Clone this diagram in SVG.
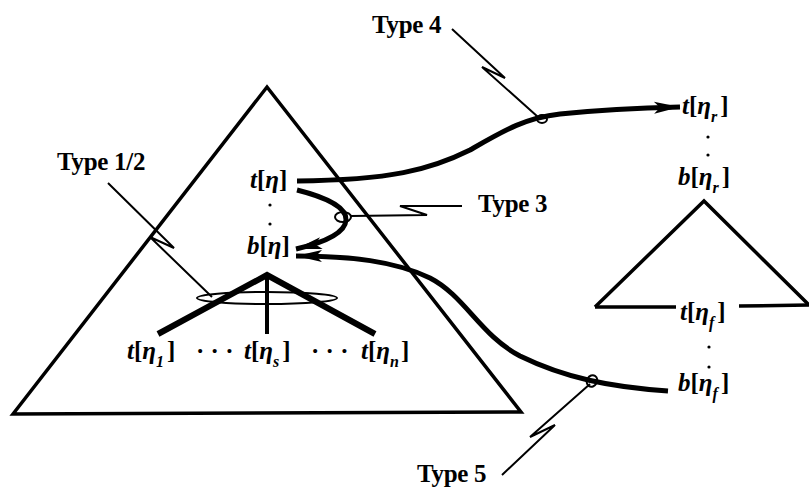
<svg xmlns="http://www.w3.org/2000/svg" width="809" height="497" viewBox="0 0 809 497">
<style>
.tri{fill:none;stroke:#000;stroke-width:3.5;stroke-linejoin:miter}
.thick{fill:none;stroke:#000;stroke-width:5;stroke-linecap:butt}
.lead{fill:none;stroke:#000;stroke-width:2}
.ring{fill:none;stroke:#000;stroke-width:2}
.lbl{font-family:"Liberation Serif",serif;font-weight:bold;font-size:25px;letter-spacing:-0.3px}
.m{font-family:"Liberation Serif",serif;font-size:25px;font-weight:bold}
.i{font-style:italic}
.sub{font-family:"Liberation Serif",serif;font-size:16px;font-style:italic;font-weight:bold}
.dot{fill:#000}
</style>
<defs>
<marker id="ah" markerUnits="userSpaceOnUse" markerWidth="32" markerHeight="16" viewBox="-28 -8 30 16" refX="0" refY="0" orient="auto">
<path d="M0,0 L-26,-6 L-20,0 L-26,6 Z" fill="#000"/>
</marker>
</defs>

<g id="big-tree">
<path class="tri" d="M13,414 L267,87 L521,412 Z"/>
</g>

<g id="subtree">
<path d="M158,334 L267,275 L375,334" fill="none" stroke="#000" stroke-width="6"/>
<path d="M267,275 L267,334" fill="none" stroke="#000" stroke-width="4"/>
<ellipse class="ring" cx="267" cy="298" rx="70" ry="6"/>
</g>

<g id="node-t-eta">
<text class="m" x="250" y="188"><tspan class="i">t</tspan>[<tspan class="i">η</tspan>]</text>
<circle class="dot" cx="270" cy="205" r="1.6"/>
<circle class="dot" cx="270" cy="224" r="1.6"/>
</g>
<g id="node-b-eta">
<text class="m" x="247" y="254"><tspan class="i">b</tspan>[<tspan class="i">η</tspan>]</text>
</g>

<g id="children">
<text class="m" x="127" y="359"><tspan class="i">t</tspan>[<tspan class="i">η</tspan><tspan class="sub" dy="8">1</tspan><tspan dy="-8" dx="3">]</tspan></text>
<text class="m" x="196" y="359">· · ·</text>
<text class="m" x="244" y="359"><tspan class="i">t</tspan>[<tspan class="i">η</tspan><tspan class="sub" dy="8">s</tspan><tspan dy="-8" dx="3">]</tspan></text>
<text class="m" x="311" y="359">· · ·</text>
<text class="m" x="361" y="359"><tspan class="i">t</tspan>[<tspan class="i">η</tspan><tspan class="sub" dy="8">n</tspan><tspan dy="-8" dx="2">]</tspan></text>
</g>

<g id="right-tree">
<path class="tri" d="M595,307 L704,201 L809,305"/>
<path class="tri" d="M595,307 L676,307 M739,306 L809,305"/>
</g>

<g id="node-t-eta-r">
<text class="m" x="682" y="114"><tspan class="i">t</tspan>[<tspan class="i">η</tspan><tspan class="sub" dy="8">r</tspan><tspan dy="-8" dx="3">]</tspan></text>
<circle class="dot" cx="708" cy="137" r="1.6"/>
<circle class="dot" cx="708" cy="155" r="1.6"/>
</g>
<g id="node-b-eta-r">
<text class="m" x="678" y="185"><tspan class="i">b</tspan>[<tspan class="i">η</tspan><tspan class="sub" dy="8">r</tspan><tspan dy="-8" dx="3">]</tspan></text>
</g>
<g id="node-t-eta-f">
<text class="m" x="680" y="320"><tspan class="i">t</tspan>[<tspan class="i">η</tspan><tspan class="sub" dy="8">f</tspan><tspan dy="-8" dx="3">]</tspan></text>
<circle class="dot" cx="709" cy="347" r="1.6"/>
<circle class="dot" cx="709" cy="367" r="1.6"/>
</g>
<g id="node-b-eta-f">
<text class="m" x="678" y="391"><tspan class="i">b</tspan>[<tspan class="i">η</tspan><tspan class="sub" dy="8">f</tspan><tspan dy="-8" dx="3">]</tspan></text>
</g>

<g id="connectors">
<path class="thick" marker-end="url(#ah)" d="M297,181 C390,180 430,170 470,150 C505,130 525,118 560,114 C600,110 640,108 680,107"/>
<path class="thick" marker-end="url(#ah)" d="M297,190 C325,197 347,207 346,220 C345,234 322,243 296,249"/>
<path class="thick" marker-end="url(#ah)" d="M668,391 C610,387 565,378 520,356 C480,335 465,296 430,278 C395,261 350,256 296,256"/>
</g>

<g id="annotations">
<text class="lbl" x="57" y="170">Type 1/2</text>
<path class="lead" d="M108,183 L174,248 L150,237 L212,297"/>
<text class="lbl" x="372" y="33">Type 4</text>
<path class="lead" d="M452,29 L505,78 L482,67 L538,117"/>
<ellipse class="ring" cx="542" cy="119" rx="5" ry="4"/>
<text class="lbl" x="478" y="212">Type 3</text>
<path class="lead" d="M462,206 L400,206 L427,215 L351,216"/>
<ellipse class="ring" cx="343" cy="217" rx="8" ry="5"/>
<text class="lbl" x="417" y="482">Type 5</text>
<path class="lead" d="M502,475 L555,425 L530,437 L590,384"/>
<ellipse class="ring" cx="592" cy="381" rx="5" ry="6" transform="rotate(30 592 381)"/>
</g>
</svg>
